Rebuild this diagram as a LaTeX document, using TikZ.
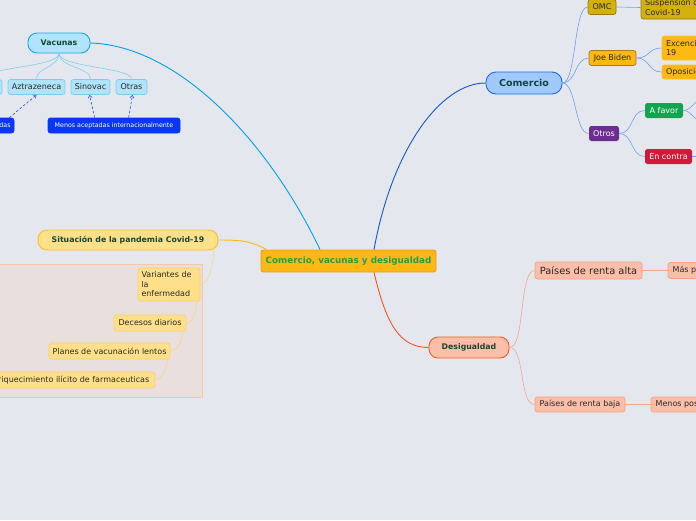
\documentclass[tikz,border=0pt]{standalone}
\usepackage{fontspec}
\setmainfont{DejaVu Sans}
\usetikzlibrary{calc,arrows.meta}
\definecolor{bgc}{RGB}{228,232,238}
\definecolor{txtdark}{RGB}{40,40,40}
\definecolor{tgreen}{RGB}{16,72,48}
\definecolor{cengreen}{RGB}{30,160,70}
\definecolor{cenfill}{RGB}{253,184,19}
\definecolor{cendraw}{RGB}{240,150,40}
\definecolor{vacfill}{RGB}{176,228,252}
\definecolor{vacdraw}{RGB}{30,165,225}
\definecolor{vacchild}{RGB}{125,205,240}
\definecolor{vacline}{RGB}{0,160,228}
\definecolor{bluebox}{RGB}{10,55,245}
\definecolor{dashblue}{RGB}{60,90,230}
\definecolor{comfill}{RGB}{160,202,255}
\definecolor{comdraw}{RGB}{30,110,220}
\definecolor{comline}{RGB}{20,85,200}
\definecolor{combr}{RGB}{110,160,232}
\definecolor{omcfill}{RGB}{212,177,10}
\definecolor{omcdraw}{RGB}{150,120,20}
\definecolor{joedraw}{RGB}{170,120,40}
\definecolor{otrfill}{RGB}{108,45,145}
\definecolor{favfill}{RGB}{18,165,80}
\definecolor{confill}{RGB}{210,25,55}
\definecolor{desfill}{RGB}{251,191,169}
\definecolor{desdraw}{RGB}{240,90,40}
\definecolor{deschild}{RGB}{245,160,130}
\definecolor{desline}{RGB}{240,85,35}
\definecolor{desbr}{RGB}{245,165,140}
\definecolor{sitfill}{RGB}{255,224,138}
\definecolor{sitdraw}{RGB}{253,190,40}
\definecolor{sitchild}{RGB}{253,208,106}
\definecolor{sitline}{RGB}{253,184,19}
\definecolor{sitbr}{RGB}{250,215,130}
\definecolor{grpfill}{RGB}{232,223,222}
\definecolor{grpdraw}{RGB}{249,200,160}
\begin{document}
\begin{tikzpicture}[x=1pt,y=-1pt,
  box/.style={draw, rounded corners=2.5pt, line width=0.7pt, inner sep=0pt, align=center,
    font=\fontsize{8}{9.5}\selectfont, text=txtdark},
  pill/.style={draw, rounded corners=9pt, line width=0.9pt, inner sep=0pt, align=center,
    font=\fontsize{7.8}{9}\selectfont\bfseries, text=tgreen},
  vchild/.style={box, fill=vacfill, draw=vacchild, minimum height=15pt},
  bbox/.style={box, fill=bluebox, draw=bluebox, text=white, font=\fontsize{6.3}{7.5}\selectfont, minimum height=15pt},
  cbox/.style={box, minimum height=15pt},
  dbox/.style={box, fill=desfill, draw=deschild, minimum height=15pt},
  sbox/.style={box, fill=sitfill, draw=sitchild, minimum height=16pt},
  wbox/.style={box, text=white, draw=none, minimum height=15pt},
  conn/.style={line width=0.9pt},
  br/.style={line width=0.6pt},
  dsh/.style={dashed, dash pattern=on 2.5pt off 2pt, line width=0.7pt, draw=dashblue, -{Straight Barb[length=2.5pt,width=4pt]}}
]
\useasboundingbox (0,0) rectangle (696,520);
\fill[bgc] (0,0) rectangle (696,520);
\clip (0,0) rectangle (696,520);

% group background
\draw[fill=grpfill, draw=grpdraw, line width=0.7pt] (-5,264) rectangle (202,397);

% central
\node[box, fill=cenfill, draw=cendraw, line width=0.9pt, minimum width=175pt, minimum height=22pt,
  text=cengreen, font=\fontsize{8.8}{10}\selectfont\bfseries] (cen) at (348.5,261) {Comercio, vacunas y desigualdad};

% Vacunas
\node[pill, fill=vacfill, draw=vacdraw, minimum width=62pt, minimum height=20pt] (vac) at (59,43) {Vacunas};
\node[vchild, minimum width=40pt] (vx) at (-18,87) {Pfizer};
\node[vchild, minimum width=57pt] (azt) at (36.5,87) {Aztrazeneca};
\node[vchild, minimum width=39pt] (sin) at (90.5,87) {Sinovac};
\node[vchild, minimum width=31pt] (otr) at (131.5,87) {Otras};
\node[bbox, minimum width=54pt] (las) at (-13,125.5) {Más aceptadas};
\node[bbox, minimum width=132pt] (men) at (114,125.5) {Menos aceptadas internacionalmente};

% Comercio
\node[pill, fill=comfill, draw=comdraw, rounded corners=10pt, minimum width=76pt, minimum height=22pt,
  font=\fontsize{9.5}{11}\selectfont\bfseries] (com) at (524,83) {Comercio};
\node[cbox, fill=omcfill, draw=omcdraw, minimum width=28pt] (omc) at (602,7) {OMC};
\node[cbox, fill=omcfill, draw=omcdraw, minimum width=80pt, minimum height=23pt, align=left, text width=72pt] (sus) at (681,7.5) {Suspension de\\Covid-19};
\node[cbox, fill=cenfill, draw=joedraw, minimum width=47pt] (joe) at (612.5,58) {Joe Biden};
\node[cbox, fill=cenfill, draw=sitdraw, minimum width=80pt, minimum height=24pt, align=left, text width=72pt] (exc) at (702,48) {Excencion de\\19};
\node[cbox, fill=cenfill, draw=sitdraw, minimum width=80pt, minimum height=14pt, align=left, text width=72pt] (opo) at (702,72) {Oposicion de};
\node[wbox, fill=otrfill, minimum width=30pt] (otros) at (604,133.5) {Otros};
\node[wbox, fill=favfill, minimum width=38pt] (afv) at (664,110.5) {A favor};
\node[wbox, fill=confill, minimum width=47pt] (ecn) at (668.5,156.5) {En contra};
\coordinate (afa) at (702,100);
\coordinate (afb) at (702,121);
\coordinate (ecr) at (702,156.5);

% Desigualdad
\node[pill, fill=desfill, draw=desdraw, minimum width=80pt, minimum height=21pt] (des) at (469,347.5) {Desigualdad};
\node[dbox, minimum width=107pt, minimum height=17pt, font=\fontsize{9.9}{11}\selectfont] (alta) at (588.5,270.5) {Países de renta alta};
\node[dbox, minimum width=80pt, minimum height=16pt] (masp) at (708,270.5) {Más posibilidades};
\node[dbox, minimum width=90pt] (baja) at (580,404.5) {Países de renta baja};
\node[dbox, minimum width=90pt] (menp) at (696,404.5) {Menos posibilidades};

% Situacion
\node[pill, fill=sitfill, draw=sitdraw, minimum width=180pt, minimum height=20pt] (sit) at (128,240) {Situación de la pandemia Covid-19};
\node[sbox, minimum width=62pt, minimum height=33pt, align=left, text width=55pt] (var) at (169,284.5) {Variantes de\\la\\enfermedad};
\node[sbox, minimum width=72pt] (dec) at (150,323) {Decesos diarios};
\node[sbox, minimum width=121pt] (pla) at (109.5,351) {Planes de vacunación lentos};
\node[sbox, minimum width=172pt, anchor=east] (enr) at (155,380) {Enriquecimiento ilícito de farmaceuticas};

% main connectors
\draw[conn, vacline] (vac.east) .. controls +(90,3) and +(-50,-105) .. ($(cen.north)+(-28.5,0)$);
\draw[conn, comline] ($(cen.north)+(25.5,0)$) .. controls +(18,-100) and +(-45,0) .. (com.west);
\draw[conn, desline] ($(cen.south)+(25.5,0)$) .. controls +(12,50) and +(-30,0) .. (des.west);
\draw[conn, sitline] (sit.east) .. controls +(25,0) and +(-15,-8) .. ($(cen.north west)+(6,0)$);

% Vacunas branches
\foreach \c in {vx,azt,sin,otr}{
  \draw[br, vacchild] (vac.south) .. controls +(0,14) and +(0,-12) .. (\c.north);
}
\draw[dsh] ($(las.north east)+(-5,0)$) -- (azt.south);
\draw[dsh] ($(men.north west)+(47,0)$) -- ($(sin.south)+(-1,0)$);
\draw[dsh] ($(men.north west)+(81,0)$) -- ($(otr.south)+(1,0)$);

% Comercio branches
\foreach \c in {omc,joe,otros}{
  \draw[br, combr] (com.east) .. controls +(14,0) and +(-14,0) .. (\c.west);
}
\draw[br, combr] (omc.east) -- (sus.west);
\draw[br, combr] (joe.east) .. controls +(14,0) and +(-14,0) .. (exc.west);
\draw[br, combr] (joe.east) .. controls +(14,0) and +(-14,0) .. (opo.west);
\draw[br, combr] (otros.east) .. controls +(14,0) and +(-14,0) .. (afv.west);
\draw[br, combr] (otros.east) .. controls +(14,0) and +(-14,0) .. (ecn.west);
\draw[br, combr] (afv.east) .. controls +(8,0) and +(-8,0) .. (afa);
\draw[br, combr] (afv.east) .. controls +(8,0) and +(-8,0) .. (afb);
\draw[br, combr] (ecn.east) -- (ecr);

% Desigualdad branches
\draw[br, desbr] (des.east) .. controls +(16,0) and +(-16,0) .. (alta.west);
\draw[br, desbr] (des.east) .. controls +(16,0) and +(-16,0) .. (baja.west);
\draw[br, desbr] (alta.east) -- (masp.west);
\draw[br, desbr] (baja.east) -- (menp.west);

% Situacion chain
\draw[br, sitbr] ($(sit.south east)+(-5,0)$) .. controls +(0,16) and +(8,0) .. (var.east);
\draw[br, sitbr] ($(var.south east)+(-4,0)$) .. controls +(0,12) and +(6,0) .. (dec.east);
\draw[br, sitbr] ($(dec.south east)+(-4,0)$) .. controls +(0,12) and +(6,0) .. (pla.east);
\draw[br, sitbr] ($(pla.south east)+(-3,0)$) .. controls +(0,10) and +(6,0) .. (enr.east);

% redraw nodes on top of connectors is implicit via order? ensure boxes on top
\end{tikzpicture}
\end{document}
